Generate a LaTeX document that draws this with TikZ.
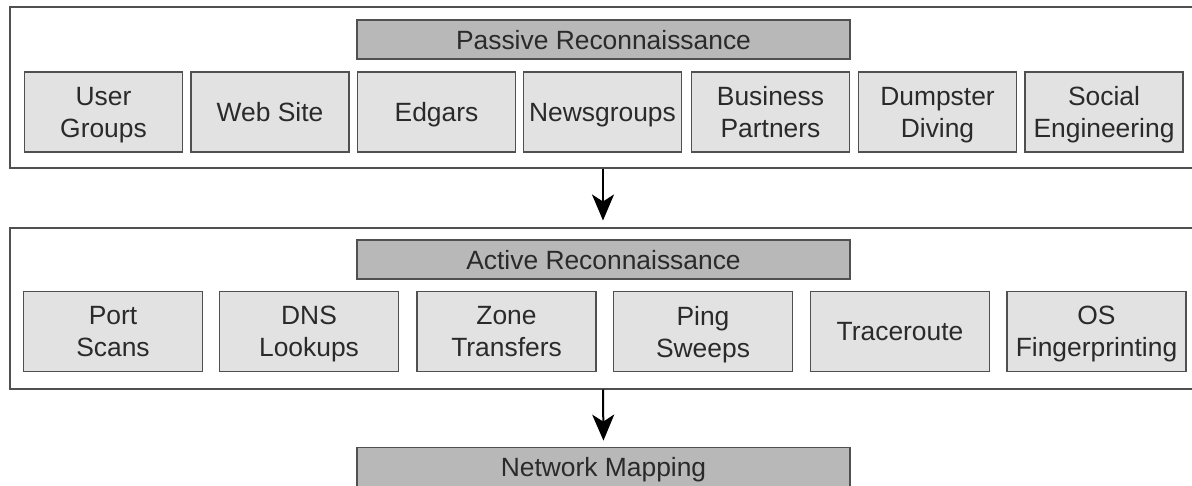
\documentclass[tikz,border=0pt]{standalone}
\usepackage{fontspec}
\setmainfont{Liberation Sans}
\usetikzlibrary{arrows.meta}

\definecolor{LineGray}{HTML}{505050}
\definecolor{TextGray}{HTML}{2A2A2A}
\definecolor{ItemFill}{HTML}{E2E2E2}
\definecolor{HeadFill}{HTML}{B8B8B8}

\begin{document}
\begin{tikzpicture}[x=0.5pt, y=-0.5pt]
        \tikzset{PhaseStyle/.style={shape=rectangle, draw=LineGray, line width=1pt,
            fill=white, minimum width=593pt, minimum height=80.5pt, inner sep=0pt}}
        \tikzset{HeadStyle/.style={shape=rectangle, draw=LineGray, line width=0.9pt,
            fill=HeadFill, text=TextGray, minimum width=246.5pt, minimum height=19.5pt,
            inner sep=0pt, text depth=0pt, font=\fontsize{13.2}{16}\selectfont}}
        \tikzset{ItemStyle/.style={shape=rectangle, draw=LineGray, line width=0.9pt,
            fill=ItemFill, text=TextGray, minimum height=40pt, inner sep=0pt,
            align=center, text depth=0pt, font=\fontsize{13.2}{16}\selectfont}}
        \tikzset{EdgeStyle/.style={line width=1pt, draw=black,
            -{Stealth[length=13pt, width=11pt, inset=3.5pt]}, shorten >=3pt}}

        \useasboundingbox (0,0) rectangle (1192,486);

        % passive phase
        \node[PhaseStyle] (passive) at (603,87.5) {};
        \node[HeadStyle] (phead) at (603.5,39.5) {Passive Reconnaissance};
        \begin{scope}[ItemStyle/.append style={minimum width=79pt}]
          \node[ItemStyle] (usergroups) at (103.5,112) {User\\Groups};
          \node[ItemStyle] (website)    at (270,112)   {Web Site};
          \node[ItemStyle] (edgars)     at (436.5,112) {Edgars};
          \node[ItemStyle] (newsgroups) at (602.5,112) {Newsgroups};
          \node[ItemStyle] (partners)   at (770.5,112) {Business\\Partners};
          \node[ItemStyle] (dumpster)   at (937.5,112) {Dumpster\\Diving};
          \node[ItemStyle] (social)     at (1104,112)  {Social\\Engineering};
        \end{scope}

        % active phase
        \node[PhaseStyle] (active) at (603,308) {};
        \node[HeadStyle] (ahead) at (603.5,259.5) {Active Reconnaissance};
        \begin{scope}[ItemStyle/.append style={minimum width=89.5pt}]
          \node[ItemStyle] (portscans) at (113,331.5)    {Port\\Scans};
          \node[ItemStyle] (dns)       at (309,331.5)    {DNS\\Lookups};
          \node[ItemStyle] (zone)      at (506.5,331.5)  {Zone\\Transfers};
          \node[ItemStyle] (ping)      at (703,331.5)    {Ping\\Sweeps};
          \node[ItemStyle] (trace)     at (900,331.5)    {Traceroute};
          \node[ItemStyle] (osfinger)  at (1096.5,331.5) {OS\\Fingerprinting};
        \end{scope}

        % result
        \node[HeadStyle] (mapping) at (603.5,467) {Network Mapping};

        \draw[EdgeStyle] (passive.south) -- (active.north);
        \draw[EdgeStyle] (active.south) -- (mapping.north);
      \end{tikzpicture}
\end{document}
